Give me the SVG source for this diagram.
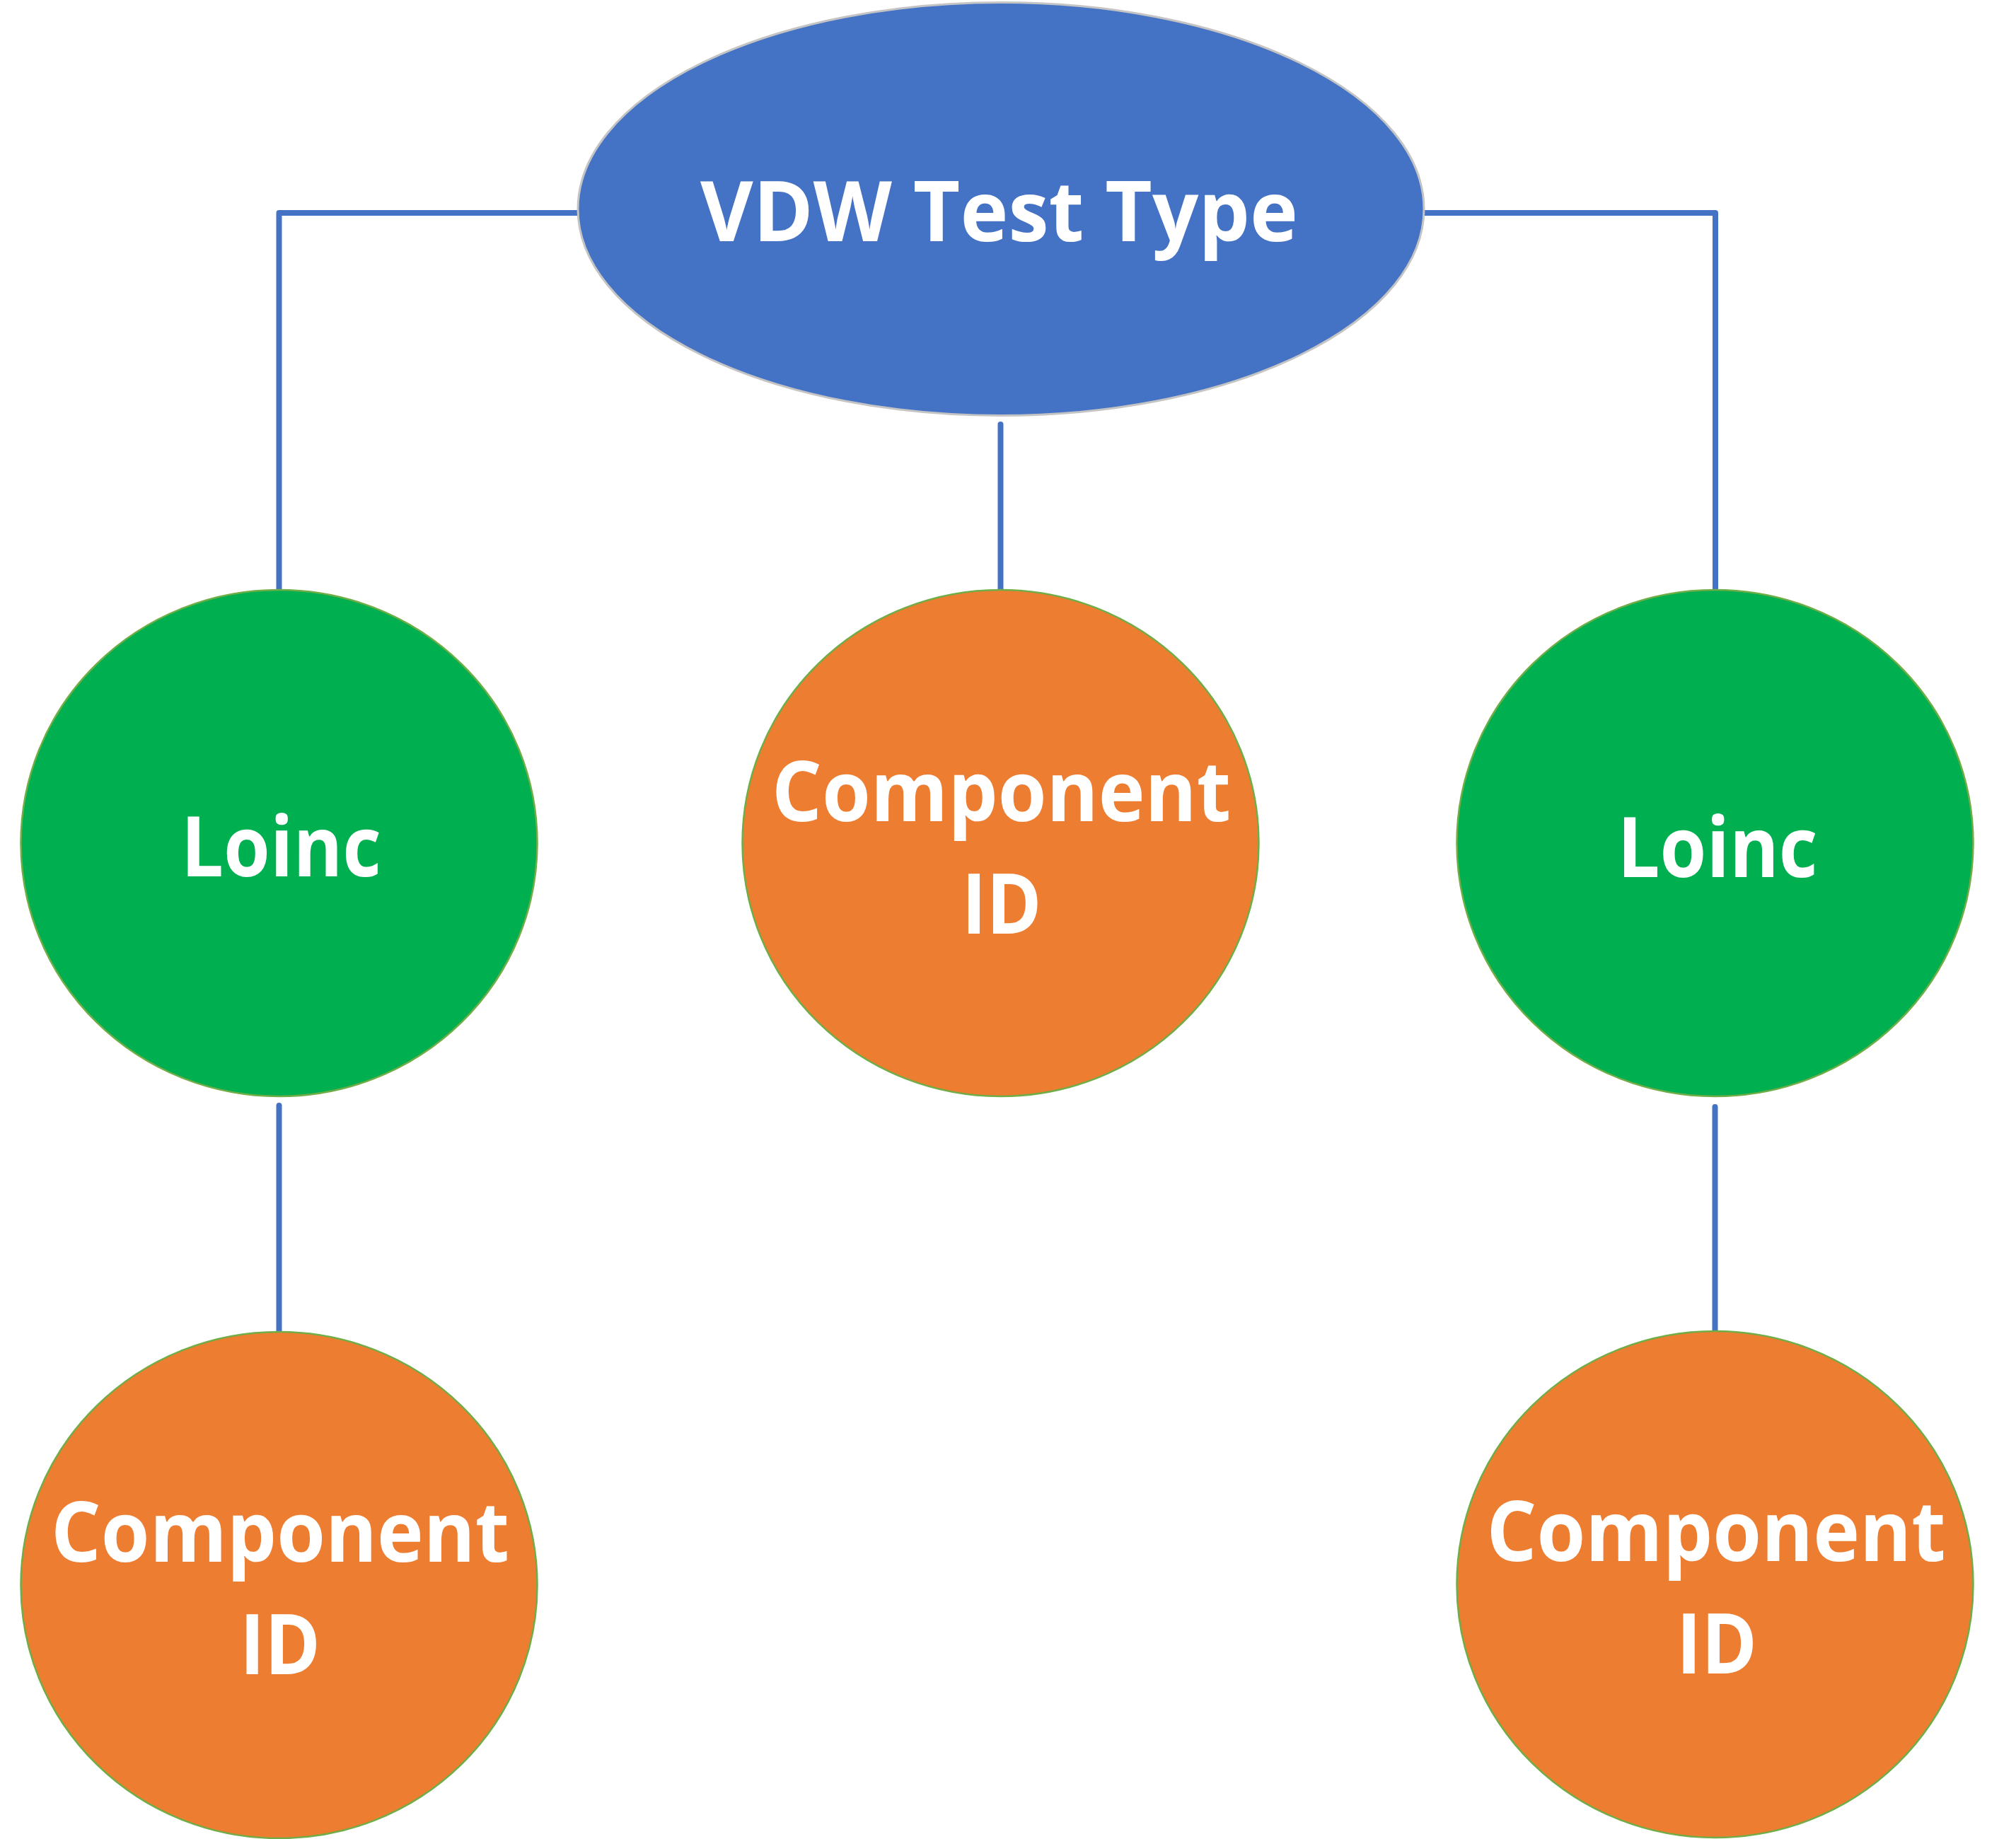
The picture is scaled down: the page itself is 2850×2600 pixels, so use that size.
<svg xmlns="http://www.w3.org/2000/svg" width="2850" height="2600" viewBox="0 0 2850 2600">
  <style>
    .label { font-family: "Open Sans", "Noto Sans", "Liberation Sans", sans-serif; font-weight: bold; font-size: 119px; fill: #FFFFFF; text-anchor: middle; }
    .link { fill: none; stroke: #4472C4; stroke-width: 8; stroke-linecap: round; stroke-linejoin: round; }
    .root { fill: #4472C4; stroke: #C4C4C4; stroke-width: 3; }
    .loinc { fill: #00B050; stroke: #70AD47; stroke-width: 2.5; }
    .comp { fill: #ED7D31; stroke: #70AD47; stroke-width: 2.5; }
  </style>
  <rect x="0" y="0" width="2850" height="2600" fill="#FFFFFF"/>

  <!-- connectors -->
  <g id="connectors">
    <path class="link" d="M817,301 H394.5 V835"/>
    <path class="link" d="M2013,301 H2425 V835"/>
    <path class="link" d="M1414.5,600 V835"/>
    <path class="link" d="M394.5,1563 V1883"/>
    <path class="link" d="M2424.5,1565 V1882"/>
  </g>

  <!-- root -->
  <g id="vdw-test-type">
    <ellipse class="root" cx="1415" cy="295.5" rx="598" ry="292"/>
    <text class="label" x="1412.5" y="341" textLength="845" lengthAdjust="spacingAndGlyphs">VDW Test Type</text>
  </g>

  <!-- second level -->
  <g id="loinc-left">
    <ellipse class="loinc" cx="394.5" cy="1192" rx="365" ry="358"/>
    <text class="label" x="397.5" y="1239" textLength="283" lengthAdjust="spacingAndGlyphs">Loinc</text>
  </g>
  <g id="component-id-center">
    <ellipse class="comp" cx="1414.5" cy="1192" rx="365" ry="358"/>
    <text class="label" x="1415.5" y="1161" textLength="649" lengthAdjust="spacingAndGlyphs">Component</text>
    <text class="label" x="1416" y="1320" textLength="113" lengthAdjust="spacingAndGlyphs">ID</text>
  </g>
  <g id="loinc-right">
    <ellipse class="loinc" cx="2424.5" cy="1192" rx="365" ry="358"/>
    <text class="label" x="2428" y="1240" textLength="283" lengthAdjust="spacingAndGlyphs">Loinc</text>
  </g>

  <!-- third level -->
  <g id="component-id-left">
    <ellipse class="comp" cx="394.5" cy="2241" rx="365" ry="358"/>
    <text class="label" x="396" y="2208" textLength="648" lengthAdjust="spacingAndGlyphs">Component</text>
    <text class="label" x="396" y="2367" textLength="114" lengthAdjust="spacingAndGlyphs">ID</text>
  </g>
  <g id="component-id-right">
    <ellipse class="comp" cx="2424.5" cy="2240" rx="365" ry="358"/>
    <text class="label" x="2426" y="2207" textLength="649" lengthAdjust="spacingAndGlyphs">Component</text>
    <text class="label" x="2427" y="2366" textLength="114" lengthAdjust="spacingAndGlyphs">ID</text>
  </g>
</svg>
